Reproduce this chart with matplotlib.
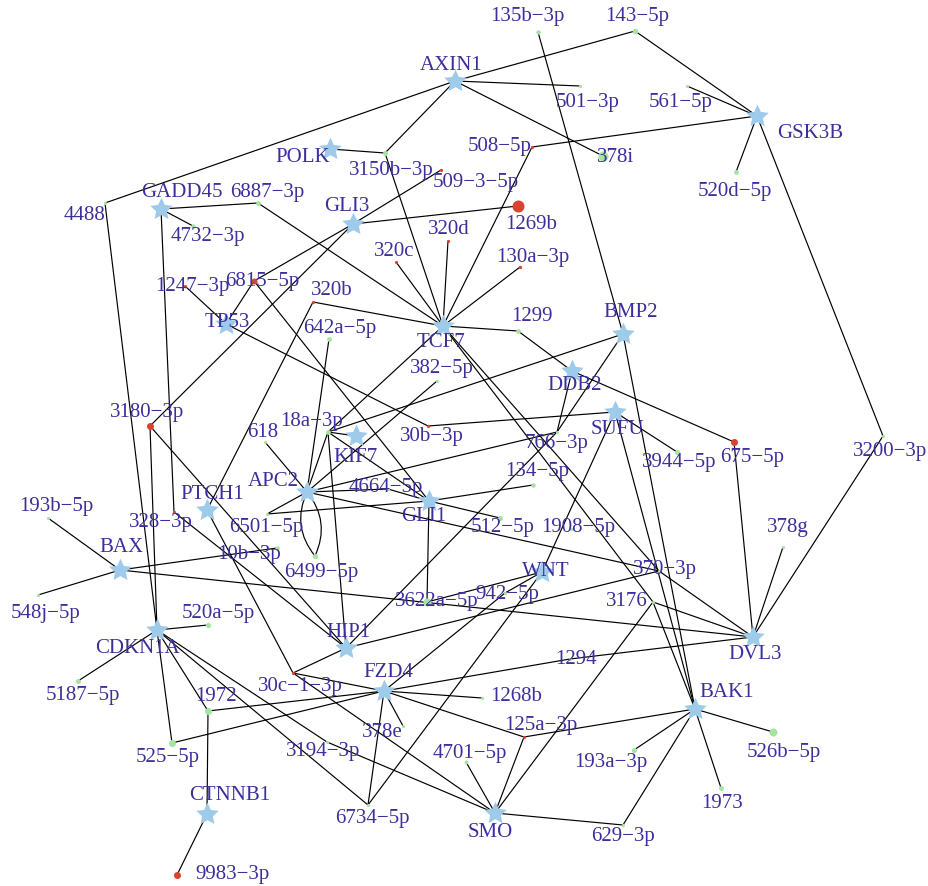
import numpy as np
import matplotlib
matplotlib.use("Agg")
import matplotlib.pyplot as plt
from matplotlib.path import Path
from matplotlib.patches import PathPatch

# genes (stars) and miRNAs (dots)
genes = ["AXIN1", "POLK", "GADD45", "GLI3", "TP53", "TCF7", "BMP2", "DDB2", "SUFU",
         "KIF7", "APC2", "GLI1", "PTCH1", "BAX", "WNT", "HIP1", "CDKN1A", "FZD4",
         "DVL3", "BAK1", "CTNNB1", "SMO", "GSK3B"]

mirnas_up = ["509-3-5p", "1269b", "320d", "320c", "130a-3p", "1247-3p", "6815-5p",
             "320b", "3180-3p", "30b-3p", "328-3p", "675-5p", "30c-1-3p", "125a-3p",
             "9983-3p", "508-5p"]
mirnas_down = ["135b-3p", "143-5p", "501-3p", "561-5p", "378i", "3150b-3p", "6887-3p",
               "4732-3p", "4488", "520d-5p", "642a-5p", "1299", "382-5p", "618", "18a-3p",
               "766-3p", "134-5p", "3944-5p", "3200-3p", "4664-5p", "512-5p", "1908-5p",
               "6501-5p", "6499-5p", "193b-5p", "10b-3p", "370-3p", "378g", "548j-5p",
               "3622a-5p", "942-5p", "3176", "520a-5p", "5187-5p", "1294", "1268b", "1972",
               "378e", "525-5p", "3194-3p", "4701-5p", "193a-3p", "526b-5p", "1973",
               "6734-5p", "629-3p"]

# dot radius (px)
mirna_weight = {"1269b": 6, "378i": 5, "3622a-5p": 4, "526b-5p": 4, "3180-3p": 3.5,
                "675-5p": 3.5, "9983-3p": 3.5, "525-5p": 3.5, "1972": 3.5, "6815-5p": 3,
                "143-5p": 2.8, "6499-5p": 2.6, "5187-5p": 2.5, "520a-5p": 2.6, "1973": 2.5,
                "193a-3p": 2.6, "3944-5p": 2.6, "512-5p": 2.5, "134-5p": 2.2, "3150b-3p": 2.5,
                "6887-3p": 2.4, "642a-5p": 2.4, "1299": 2.4, "520d-5p": 2.4, "135b-3p": 2.2,
                "18a-3p": 2.4, "4732-3p": 2.2, "10b-3p": 2.2, "4701-5p": 2}

edges = [
    ("AXIN1", "4488"), ("AXIN1", "143-5p"), ("AXIN1", "501-3p"), ("AXIN1", "378i"),
    ("AXIN1", "3150b-3p"), ("POLK", "3150b-3p"), ("3150b-3p", "TCF7"), ("135b-3p", "BMP2"),
    ("GSK3B", "143-5p"), ("GSK3B", "561-5p"), ("GSK3B", "508-5p"), ("GSK3B", "520d-5p"),
    ("GSK3B", "3200-3p"), ("508-5p", "TCF7"), ("GLI3", "509-3-5p"), ("GLI3", "6815-5p"),
    ("GLI3", "1269b"), ("GLI3", "3180-3p"), ("GADD45", "6887-3p"), ("GADD45", "4732-3p"),
    ("GADD45", "328-3p"), ("6887-3p", "TCF7"), ("320d", "TCF7"), ("320c", "TCF7"),
    ("130a-3p", "TCF7"), ("320b", "TCF7"), ("1299", "TCF7"), ("18a-3p", "TCF7"),
    ("TCF7", "370-3p"), ("TCF7", "3176"), ("1247-3p", "TP53"), ("6815-5p", "TP53"),
    ("TP53", "30b-3p"), ("6815-5p", "GLI1"), ("320b", "PTCH1"), ("642a-5p", "APC2"),
    ("4488", "CDKN1A"), ("3180-3p", "CDKN1A"), ("3180-3p", "HIP1"), ("328-3p", "HIP1"),
    ("1299", "DDB2"), ("DDB2", "766-3p"), ("DDB2", "675-5p"), ("BMP2", "18a-3p"),
    ("BMP2", "766-3p"), ("BMP2", "BAK1"), ("SUFU", "30b-3p"), ("SUFU", "3944-5p"),
    ("SUFU", "WNT"), ("SUFU", "BAK1"), ("675-5p", "DVL3"), ("3200-3p", "DVL3"),
    ("378g", "DVL3"), ("370-3p", "DVL3"), ("3176", "DVL3"), ("BAX", "DVL3"),
    ("1294", "DVL3"), ("FZD4", "1294"), ("18a-3p", "KIF7"), ("18a-3p", "APC2"),
    ("18a-3p", "GLI1"), ("18a-3p", "HIP1"), ("618", "APC2"), ("382-5p", "APC2"),
    ("APC2", "766-3p"), ("APC2", "4664-5p"), ("4664-5p", "GLI1"), ("APC2", "370-3p"),
    ("APC2", "6501-5p"), ("6501-5p", "GLI1"), ("GLI1", "134-5p"),
    ("GLI1", "512-5p"), ("GLI1", "3622a-5p"), ("BAX", "193b-5p"), ("BAX", "548j-5p"),
    ("BAX", "10b-3p"), ("CDKN1A", "520a-5p"), ("CDKN1A", "5187-5p"), ("CDKN1A", "525-5p"),
    ("CDKN1A", "1972"), ("CDKN1A", "3194-3p"), ("CDKN1A", "6734-5p"), ("PTCH1", "30c-1-3p"),
    ("HIP1", "30c-1-3p"), ("HIP1", "766-3p"), ("HIP1", "370-3p"), ("30c-1-3p", "FZD4"),
    ("30c-1-3p", "SMO"), ("FZD4", "1268b"), ("FZD4", "378e"), ("FZD4", "6734-5p"),
    ("FZD4", "125a-3p"), ("FZD4", "1972"), ("FZD4", "525-5p"), ("FZD4", "942-5p"),
    ("WNT", "942-5p"), ("WNT", "3622a-5p"), ("WNT", "6734-5p"), ("1972", "CTNNB1"),
    ("CTNNB1", "9983-3p"), ("3194-3p", "SMO"), ("4701-5p", "SMO"), ("125a-3p", "SMO"),
    ("125a-3p", "BAK1"), ("3176", "SMO"), ("3176", "BAK1"), ("SMO", "629-3p"),
    ("629-3p", "BAK1"), ("BAK1", "193a-3p"), ("BAK1", "526b-5p"), ("BAK1", "1973"),
]
# double (curved) edges
multi_edges = [("APC2", "6499-5p")]

# layout of the drawing, in pixels: node position and label offset
layout = {
    "AXIN1": (455, 82, -4, -16), "POLK": (330, 150, -27, 7), "GADD45": (161, 210, 21, -17),
    "GLI3": (353, 225, -6, -18), "TP53": (226, 325, 1, -2), "TCF7": (443, 327, -2, 16),
    "BMP2": (623, 335, 8, -22), "DDB2": (572, 372, 3, 14), "SUFU": (615, 413, 2, 17),
    "KIF7": (356, 437, 0, 21), "APC2": (307, 493, -34, -11), "GLI1": (429, 502, -5, 15),
    "PTCH1": (207, 511, 5, -16), "BAX": (120, 571, 1, -23), "WNT": (542, 573, 4, -1),
    "HIP1": (346, 649, 2, -16), "CDKN1A": (157, 631, -19, 18), "FZD4": (384, 692, 4, -19),
    "DVL3": (753, 638, 2, 17), "BAK1": (695, 710, 32, -17), "CTNNB1": (207, 815, 23, -19),
    "SMO": (495, 814, -5, 19), "GSK3B": (757, 117, 53, 16),
    "135b-3p": (538, 33, -11, -16), "143-5p": (635, 32, 2, -15), "501-3p": (580, 87, 8, 16),
    "561-5p": (687, 87, -6, 16), "378i": (603, 157, 13, 0), "508-5p": (532, 148, -32, -1),
    "509-3-5p": (441, 171, 35, 12), "3150b-3p": (385, 154, 6, 16), "1269b": (518, 207, 13, 18),
    "6887-3p": (258, 204, 9, -11), "4732-3p": (193, 227, 15, 10), "4488": (105, 204, -20, 12),
    "520d-5p": (736, 173, -1, 19), "320d": (448, 242, 1, -12), "320c": (396, 263, -2, -11),
    "130a-3p": (520, 268, 13, -10), "1247-3p": (185, 287, 7, 0), "6815-5p": (254, 282, 8, 0),
    "320b": (313, 303, 19, -12), "642a-5p": (329, 340, 11, -11), "1299": (518, 332, 14, -15),
    "382-5p": (437, 382, 5, -13), "3180-3p": (150, 427, -3, -14), "618": (265, 443, -2, -10),
    "18a-3p": (328, 433, -16, -11), "30b-3p": (428, 427, 4, 10), "766-3p": (557, 433, 0, 11),
    "134-5p": (533, 486, 4, -14), "3944-5p": (677, 453, 2, 10), "675-5p": (734, 443, 18, 15),
    "3200-3p": (883, 437, 7, 15), "4664-5p": (388, 490, -2, -2), "512-5p": (500, 519, 3, 9),
    "1908-5p": (571, 530, 7, -2), "6501-5p": (267, 515, -1, 13), "6499-5p": (315, 557, 6, 16),
    "193b-5p": (48, 519, 8, -12), "328-3p": (174, 513, -13, 10), "10b-3p": (277, 549, -28, 6),
    "370-3p": (659, 572, 6, -2), "378g": (783, 548, 5, -20), "548j-5p": (38, 596, 8, 18),
    "3622a-5p": (427, 603, 10, -1), "942-5p": (505, 594, 2, 1), "3176": (653, 603, -26, -1),
    "520a-5p": (208, 626, 10, -12), "5187-5p": (78, 682, 5, 14), "30c-1-3p": (293, 674, 7, 13),
    "1294": (570, 660, 6, 0), "1268b": (482, 699, 34, -2), "1972": (208, 712, 8, -15),
    "378e": (403, 727, -21, 6), "125a-3p": (524, 738, 17, -12), "525-5p": (172, 744, -4, 14),
    "3194-3p": (327, 743, -4, 9), "4701-5p": (466, 763, 4, -9), "193a-3p": (634, 751, -23, 12),
    "526b-5p": (773, 733, 11, 20), "1973": (721, 789, 1, 15), "6734-5p": (368, 806, 4, 13),
    "629-3p": (623, 826, 0, 11), "9983-3p": (177, 876, 56, -1),
}

star_color = "#9ecbea"
up_color = "#d9432f"
down_color = "#a6e4a2"
text_color = "#3b2f9c"

plt.rcParams["font.family"] = ["Liberation Serif", "DejaVu Serif"]

fig = plt.figure(figsize=(9.29, 8.87), dpi=100)
ax = fig.add_axes([0, 0, 1, 1])
ax.set_xlim(0, 929)
ax.set_ylim(887, 0)
ax.axis("off")

for a, b in edges:
    xa, ya = layout[a][:2]
    xb, yb = layout[b][:2]
    ax.plot([xa, xb], [ya, yb], color="black", lw=0.85, zorder=1, solid_capstyle="butt")

for a, b in multi_edges:
    p0 = np.array(layout[a][:2], float)
    p2 = np.array(layout[b][:2], float)
    mid = (p0 + p2) / 2
    d = p2 - p0
    perp = np.array([d[1], -d[0]]) / np.hypot(*d)
    for sgn in (-1, 1):
        p1 = mid + sgn * 20 * perp
        path = Path([p0, p1, p2], [Path.MOVETO, Path.CURVE3, Path.CURVE3])
        ax.add_patch(PathPatch(path, fc="none", ec="black", lw=0.85, zorder=1))

# fat five-pointed star marker
ang = np.pi / 2 + np.arange(10) * np.pi / 5
rad = np.where(np.arange(10) % 2 == 0, 1.0, 0.48)
star = Path(np.column_stack([rad * np.cos(ang), rad * np.sin(ang)]).tolist() + [[0, 1]],
            [Path.MOVETO] + [Path.LINETO] * 9 + [Path.CLOSEPOLY])

gx = [layout[g][0] for g in genes]
gy = [layout[g][1] for g in genes]
ax.plot(gx, gy, ls="none", marker=star, ms=17, mfc=star_color, mec="none", zorder=3)

for group, col in ((mirnas_up, up_color), (mirnas_down, down_color)):
    for m in group:
        r = mirna_weight.get(m, 1.6)
        ax.plot(layout[m][0], layout[m][1], "o", ms=2 * r / 1.389, mfc=col, mec="none", zorder=2)

for name in genes + mirnas_up + mirnas_down:
    x, y, dx, dy = layout[name]
    ax.text(x + dx, y + dy, name.replace("-", "\u2212"), color=text_color, fontsize=15,
            ha="center", va="center", zorder=4)

fig.savefig("out.png", dpi=100, facecolor="white")
